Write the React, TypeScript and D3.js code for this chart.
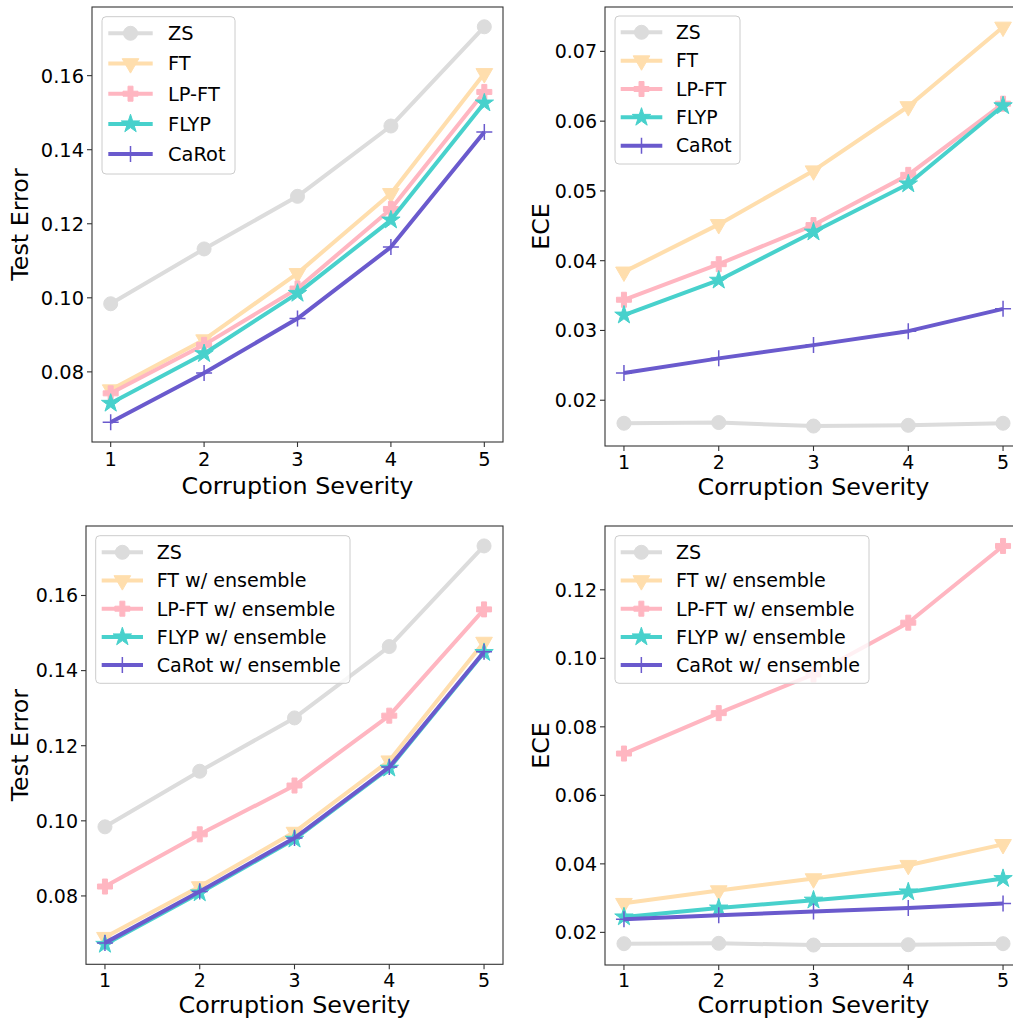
import React from "react";
import * as d3 from "d3";

const severity = [1, 2, 3, 4, 5];
const baseNames = ["ZS", "FT", "LP-FT", "FLYP", "CaRot"];
const ensembleNames = ["ZS", "FT w/ ensemble", "LP-FT w/ ensemble", "FLYP w/ ensemble", "CaRot w/ ensemble"];
const seriesColors = ["#dcdcdc", "#ffdead", "#ffb6c1", "#48d1cc", "#6a5acd"];
const seriesMarkers = ["circle", "triangleDown", "plusFilled", "star", "plusThin"];

// Top-left: Test Error
const errZS = [0.0984, 0.1132, 0.1274, 0.1464, 0.1732];
const errFT = [0.0752, 0.0887, 0.1066, 0.1282, 0.1606];
const errLPFT = [0.0742, 0.0873, 0.1025, 0.124, 0.1556];
const errFLYP = [0.0715, 0.0849, 0.1012, 0.121, 0.1526];
const errCaRot = [0.0664, 0.0797, 0.0944, 0.1137, 0.1448];

// Top-right: ECE
const eceZS = [0.0167, 0.0168, 0.0163, 0.0164, 0.0167];
const eceFT = [0.0384, 0.0452, 0.0529, 0.0621, 0.0735];
const eceLPFT = [0.0344, 0.0395, 0.0451, 0.0523, 0.0625];
const eceFLYP = [0.0322, 0.0372, 0.0441, 0.051, 0.0622];
const eceCaRot = [0.0239, 0.026, 0.0279, 0.0299, 0.0331];

// Bottom-left: Test Error w/ ensemble
const errEnsFT = [0.069, 0.0825, 0.097, 0.116, 0.1476];
const errEnsLPFT = [0.0825, 0.0964, 0.1094, 0.128, 0.1563];
const errEnsFLYP = [0.0671, 0.0808, 0.0951, 0.114, 0.1448];
const errEnsCaRot = [0.0675, 0.0812, 0.0954, 0.1143, 0.145];

// Bottom-right: ECE w/ ensemble
const eceEnsFT = [0.0285, 0.0322, 0.0357, 0.0396, 0.0457];
const eceEnsLPFT = [0.0722, 0.084, 0.0953, 0.1104, 0.1328];
const eceEnsFLYP = [0.0245, 0.0271, 0.0294, 0.0318, 0.0357];
const eceEnsCaRot = [0.0238, 0.025, 0.0261, 0.0271, 0.0284];

const errTicks = [0.08, 0.1, 0.12, 0.14, 0.16];
const eceTicks = [0.02, 0.03, 0.04, 0.05, 0.06, 0.07];
const eceEnsTicks = [0.02, 0.04, 0.06, 0.08, 0.1, 0.12];

const panels = [
  {
    box: { l: 92, r: 503, t: 7, b: 442 },
    series: [errZS, errFT, errLPFT, errFLYP, errCaRot],
    names: baseNames,
    yTicks: errTicks,
    yLabel: "Test Error",
    yLabelX: 28,
    xLabelY: 494,
    xTickDy: 24,
    tickFont: 19.4,
    legend: { x: 102, y: 16.7, w: 133, h: 157.3, y0: 33.3, dy: 30.2, hx1: 108.3, hx2: 152.7, tx: 168, font: 19.4 },
  },
  {
    box: { l: 605, r: 1022, t: 7, b: 446 },
    series: [eceZS, eceFT, eceLPFT, eceFLYP, eceCaRot],
    names: baseNames,
    yTicks: eceTicks,
    yLabel: "ECE",
    yLabelX: 549,
    xLabelY: 495,
    xTickDy: 23,
    tickFont: 19,
    legend: { x: 615, y: 16, w: 125, h: 148, y0: 32.3, dy: 28.35, hx1: 620.7, hx2: 662.3, tx: 676, font: 18.8 },
  },
  {
    box: { l: 86, r: 503, t: 526, b: 964.3 },
    series: [errZS, errEnsFT, errEnsLPFT, errEnsFLYP, errEnsCaRot],
    names: ensembleNames,
    yTicks: errTicks,
    yLabel: "Test Error",
    yLabelX: 28,
    xLabelY: 1013,
    xTickDy: 22.5,
    tickFont: 19,
    legend: { x: 95.7, y: 535.7, w: 254.3, h: 147.6, y0: 552.3, dy: 28.2, hx1: 101.7, hx2: 143, tx: 156.7, font: 19.1 },
  },
  {
    box: { l: 605, r: 1022, t: 526, b: 965 },
    series: [eceZS, eceEnsFT, eceEnsLPFT, eceEnsFLYP, eceEnsCaRot],
    names: ensembleNames,
    yTicks: eceEnsTicks,
    yLabel: "ECE",
    yLabelX: 549,
    xLabelY: 1013,
    xTickDy: 22,
    tickFont: 19,
    legend: { x: 615, y: 535.7, w: 254, h: 147.6, y0: 552.3, dy: 28.2, hx1: 620.7, hx2: 662, tx: 676, font: 19.1 },
  },
];

const FONT = "DejaVu Sans, sans-serif";
const AXIS_COLOR = "#333";

function Marker({ kind, color, x, y }: { kind: string; color: string; x: number; y: number }) {
  if (kind === "plusThin") {
    const r = 8;
    return (
      <path
        d={`M${x - r},${y}H${x + r}M${x},${y - r}V${y + r}`}
        stroke={color}
        strokeWidth={1.5}
        fill="none"
      />
    );
  }
  let type: any = d3.symbolCircle;
  let size = Math.PI * 7 * 7;
  let rot = 0;
  if (kind === "triangleDown") {
    type = d3.symbolTriangle;
    size = 120;
    rot = 180;
  } else if (kind === "plusFilled") {
    type = d3.symbolCross;
    size = 125;
  } else if (kind === "star") {
    type = d3.symbolStar;
    size = 105;
  }
  const d = d3.symbol().type(type).size(size)() || "";
  return (
    <path
      d={d}
      transform={`translate(${x},${y}) rotate(${rot})`}
      fill={color}
      stroke={color}
      strokeWidth={1}
    />
  );
}

function Panel({ p }: { p: (typeof panels)[number] }) {
  const { box } = p;
  const x = d3.scaleLinear().domain([0.8, 5.2]).range([box.l, box.r]);
  const all = p.series.flat();
  const lo = d3.min(all) as number;
  const hi = d3.max(all) as number;
  const pad = (hi - lo) * 0.05;
  const y = d3.scaleLinear().domain([lo - pad, hi + pad]).range([box.b, box.t]);
  const line = d3
    .line<number>()
    .x((_, i) => x(severity[i]))
    .y((v) => y(v));
  const fmt = d3.format(".2f");
  const clipId = `clip-${box.l}-${box.t}`;
  const L = p.legend;

  return (
    <g>
      <defs>
        <clipPath id={clipId}>
          <rect x={box.l} y={box.t} width={box.r - box.l} height={box.b - box.t} />
        </clipPath>
      </defs>
      {p.series.map((vals, si) => (
        <g key={si}>
          <path
            d={line(vals) || ""}
            fill="none"
            stroke={seriesColors[si]}
            strokeWidth={4}
            strokeLinejoin="round"
            strokeLinecap="butt"
            clipPath={`url(#${clipId})`}
          />
          {vals.map((v, i) => (
            <Marker key={i} kind={seriesMarkers[si]} color={seriesColors[si]} x={x(severity[i])} y={y(v)} />
          ))}
        </g>
      ))}
      <rect
        x={box.l}
        y={box.t}
        width={box.r - box.l}
        height={box.b - box.t}
        fill="none"
        stroke={AXIS_COLOR}
        strokeWidth={1.1}
      />
      {severity.map((s) => (
        <g key={s}>
          <line x1={x(s)} x2={x(s)} y1={box.b} y2={box.b + 5} stroke={AXIS_COLOR} strokeWidth={1.1} />
          <text
            x={x(s)}
            y={box.b + p.xTickDy}
            textAnchor="middle"
            fontFamily={FONT}
            fontSize={p.tickFont}
            fill="#000"
          >
            {s}
          </text>
        </g>
      ))}
      {p.yTicks.map((t) => (
        <g key={t}>
          <line x1={box.l - 5} x2={box.l} y1={y(t)} y2={y(t)} stroke={AXIS_COLOR} strokeWidth={1.1} />
          <text
            x={box.l - 8}
            y={y(t)}
            dy="0.36em"
            textAnchor="end"
            fontFamily={FONT}
            fontSize={p.tickFont}
            fill="#000"
          >
            {fmt(t)}
          </text>
        </g>
      ))}
      <text
        x={(box.l + box.r) / 2}
        y={p.xLabelY}
        textAnchor="middle"
        fontFamily={FONT}
        fontSize={23.8}
        fill="#000"
      >
        Corruption Severity
      </text>
      <text
        transform={`translate(${p.yLabelX},${(box.t + box.b) / 2}) rotate(-90)`}
        textAnchor="middle"
        fontFamily={FONT}
        fontSize={23.8}
        fill="#000"
      >
        {p.yLabel}
      </text>
      <rect
        x={L.x}
        y={L.y}
        width={L.w}
        height={L.h}
        rx={4}
        ry={4}
        fill="#fff"
        fillOpacity={0.8}
        stroke="#cccccc"
        strokeWidth={1}
      />
      {p.names.map((name, i) => {
        const ly = L.y0 + i * L.dy;
        return (
          <g key={name}>
            <line x1={L.hx1} x2={L.hx2} y1={ly} y2={ly} stroke={seriesColors[i]} strokeWidth={4} />
            <Marker kind={seriesMarkers[i]} color={seriesColors[i]} x={(L.hx1 + L.hx2) / 2} y={ly} />
            <text x={L.tx} y={ly} dy="0.36em" fontFamily={FONT} fontSize={L.font} fill="#000">
              {name}
            </text>
          </g>
        );
      })}
    </g>
  );
}

export default function App() {
  return (
    <div style={{ position: "absolute", left: 0, top: 0, width: 1013, height: 1019, background: "#fff" }}>
      <svg width={1013} height={1019} style={{ display: "block", overflow: "hidden" }}>
        <rect x={0} y={0} width={1013} height={1019} fill="#fff" />
        {panels.map((p, i) => (
          <Panel key={i} p={p} />
        ))}
      </svg>
    </div>
  );
}
